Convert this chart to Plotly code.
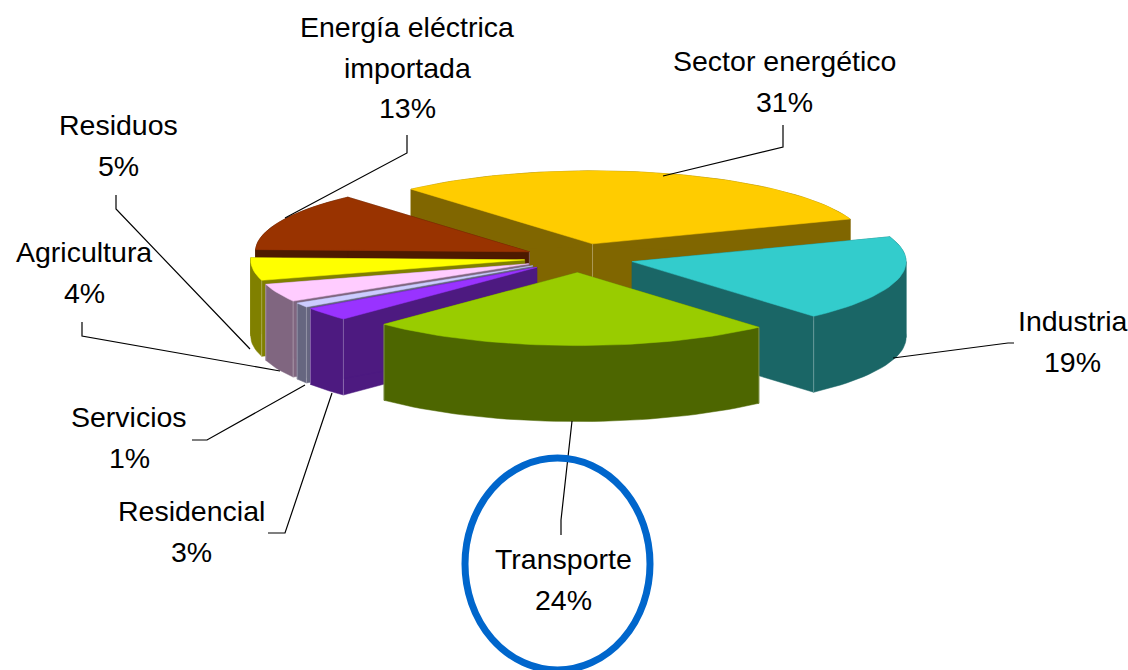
import math
import plotly.graph_objects as go

# --- data ---
categories = ["Sector energético", "Industria", "Transporte", "Residencial",
              "Servicios", "Agricultura", "Residuos", "Energía eléctrica importada"]
values = [31, 19, 24, 3, 1, 4, 5, 13]
top_colors = ["#FFCC00", "#33CCCC", "#99CC00", "#9933FF",
              "#CCCCFF", "#FFCCFF", "#FFFF00", "#993300"]
side_colors = ["#806600", "#1A6666", "#4D6600", "#4D1A80",
               "#666680", "#806680", "#808000", "#4D1A00"]
label_lines = [["Sector energético"], ["Industria"], ["Transporte"], ["Residencial"],
               ["Servicios"], ["Agricultura"], ["Residuos"], ["Energía eléctrica", "importada"]]

# --- pie projection ---
W, H = 1128, 670
CX, CY, RX, RY, DEPTH, EXPLODE = 579, 258, 274, 73, 76, 0.20
START_ANGLE = -41.5
FONT = dict(family="Liberation Sans, Arial, sans-serif", size=28.5, color="black")

# label placement: centre x, first-line y
label_pos = [(784, 61), (1072, 321), (563, 559), (191, 511),
             (129, 417), (84, 252), (118, 125), (407, 27)]
LINE_PITCH = 40.5
# leader polylines, same order as categories
leaders = [
    [(663, 176), (783, 147), (783, 125)],
    [(893, 358), (1008, 343), (1014, 343)],
    [(572, 421), (561, 520), (561, 535)],
    [(332, 393), (285, 533), (268, 533)],
    [(305, 385), (207, 440), (192, 440)],
    [(280, 371), (82, 336), (82, 322)],
    [(250, 349), (116, 209), (116, 195)],
    [(285, 218), (407, 153), (407, 135)],
]
paint_order = [0, 7, 6, 5, 4, 3, 1, 2]


def pt(ox, oy, deg, r=1.0):
    a = math.radians(deg)
    return ox + RX * r * math.sin(a), oy - RY * r * math.cos(a)


def arc_pts(ox, oy, a0, a1):
    n = max(4, int((a1 - a0) / 2))
    return [pt(ox, oy, a0 + (a1 - a0) * k / n) for k in range(n + 1)]


def poly(fig, xs, ys, color, name=None):
    fig.add_trace(go.Scatter(x=xs, y=ys, mode="lines", fill="toself", fillcolor=color,
                             line=dict(width=0.5, color=color),
                             name=name, hoverinfo="name" if name else "skip"))


total = sum(values)
angles = []
run = START_ANGLE
for v in values:
    angles.append((run, run + v / total * 360))
    run += v / total * 360

fig = go.Figure()
for i in paint_order:
    a0, a1 = angles[i]
    mid = (a0 + a1) / 2
    ox, oy = pt(CX, CY, mid, EXPLODE)
    arc = arc_pts(ox, oy, a0, a1)
    for p in (arc[0], arc[-1]):  # radial walls
        poly(fig, [ox, p[0], p[0], ox, ox], [oy, p[1], p[1] + DEPTH, oy + DEPTH, oy], side_colors[i])
    # outer wall, split at the left/right extremes so each piece is a simple polygon
    cuts = [a0] + [c for c in (90, 270) if a0 < c < a1] + [a1]
    for s0, s1 in zip(cuts[:-1], cuts[1:]):
        seg = arc_pts(ox, oy, s0, s1)
        poly(fig, [p[0] for p in seg] + [p[0] for p in reversed(seg)] + [seg[0][0]],
             [p[1] for p in seg] + [p[1] + DEPTH for p in reversed(seg)] + [seg[0][1]], side_colors[i])
    # faint highlight along the wall corners that face the viewer
    corners = [p for p, a in ((arc[0], a0), (arc[-1], a1)) if 90 < a < 270]
    if math.cos(math.radians(mid)) > 0:
        corners.append((ox, oy))
    ex, ey = [], []
    for p in corners:
        ex += [p[0], p[0], None]
        ey += [p[1], p[1] + DEPTH, None]
    if ex:
        fig.add_trace(go.Scatter(x=ex, y=ey, mode="lines", hoverinfo="skip",
                                 line=dict(width=1, color="rgba(255,255,255,0.3)")))
    poly(fig, [ox] + [p[0] for p in arc] + [ox], [oy] + [p[1] for p in arc] + [oy],
         top_colors[i], categories[i])

for path in leaders:
    fig.add_trace(go.Scatter(x=[p[0] for p in path], y=[p[1] for p in path], mode="lines",
                             line=dict(width=1.2, color="black"), hoverinfo="skip"))

for i, (x, y) in enumerate(label_pos):
    lines = label_lines[i] + [f"{values[i]}%"]
    for k, t in enumerate(lines):
        fig.add_annotation(x=x, y=y + k * LINE_PITCH, text=t, showarrow=False, font=FONT,
                           xanchor="center", yanchor="middle")

# highlight ring around Transporte
fig.add_shape(type="circle", x0=465, x1=650, y0=458, y1=670,
              line=dict(color="#0066CC", width=7), fillcolor="rgba(0,0,0,0)")

fig.update_layout(width=W, height=H, margin=dict(l=0, r=0, t=0, b=0), showlegend=False,
                  plot_bgcolor="white", paper_bgcolor="white",
                  xaxis=dict(range=[0, W], visible=False, fixedrange=True),
                  yaxis=dict(range=[H, 0], visible=False, fixedrange=True))
fig.write_html("out.html", config={"displayModeBar": False},
               post_script="document.body.style.margin='0';document.body.style.overflow='hidden';")
